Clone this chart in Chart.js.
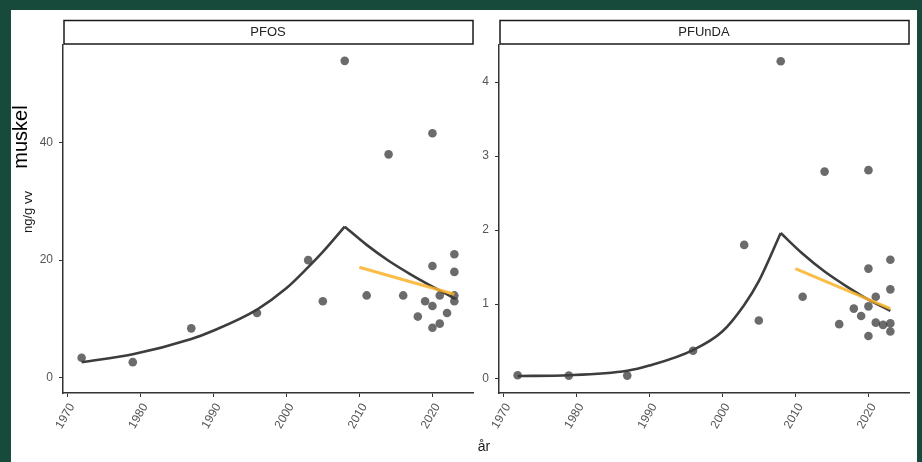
<!DOCTYPE html>
<html>
<head>
<meta charset="utf-8">
<script src="https://cdn.jsdelivr.net/npm/chart.js@4"></script>
<style>
  body { margin: 0; width: 922px; height: 462px; background: #174a3b; position: relative; overflow: hidden; font-family: "Liberation Sans", Arial, sans-serif; }
  #sheet { position: absolute; left: 11px; top: 10px; width: 906px; height: 452px; background: #fff; }
  canvas { position: absolute; top: 0; }
  .lab { position: absolute; white-space: nowrap; transform: translate(-50%, -50%); line-height: 1; }
</style>
</head>
<body>
<div id="sheet"></div>
<canvas id="pfos" width="480" height="462" style="left:0px"></canvas>
<canvas id="pfunda" width="442" height="462" style="left:480px"></canvas>
<div class="lab" id="muskel" style="left:20px; top:137px; font-size:20px; color:#000; transform:translate(-50%,-50%) rotate(-90deg);">muskel</div>
<div class="lab" id="ylab" style="left:27px; top:212px; font-size:13px; color:#1a1a1a; transform:translate(-50%,-50%) rotate(-90deg);">ng/g vv</div>
<div class="lab" id="xlab" style="left:484px; top:446px; font-size:14px; color:#1a1a1a;">år</div>
<script>
// sample years (same for both substances)
var years = [1972, 1979, 1987, 1996, 2003, 2005, 2008, 2011, 2014, 2016, 2018, 2019,
             2020, 2020, 2020, 2020, 2021, 2021, 2022, 2023, 2023, 2023, 2023];
var pfos = [3.4, 2.65, 8.4, 11.0, 20.0, 13.0, 53.9, 14.0, 38.0, 14.0, 10.4, 13.0,
            41.6, 19.0, 12.2, 8.5, 14.0, 9.2, 11.0, 21.0, 18.0, 14.0, 13.0];
var pfunda = [0.04, 0.035, 0.035, 0.37, 1.80, 0.78, 4.28, 1.10, 2.79, 0.73, 0.94, 0.84,
              2.81, 1.48, 0.97, 0.57, 1.10, 0.75, 0.72, 1.60, 1.20, 0.74, 0.63];

// fitted curve (dark line), rising part and falling part
var upYears = [1972, 1979, 1987, 1990, 1996, 2000, 2003, 2005, 2008];
var pfosUp = [2.65, 4.0, 6.6, 8.0, 11.6, 15.2, 18.8, 21.4, 25.7];
var pfundaUp = [0.03, 0.04, 0.10, 0.17, 0.38, 0.63, 0.99, 1.31, 1.96];
var downYears = [2008, 2011, 2014, 2017, 2020, 2023];
var pfosDown = [25.7, 22.6, 19.9, 17.6, 15.5, 13.5];
var pfundaDown = [1.96, 1.68, 1.44, 1.24, 1.06, 0.91];

// recent trend (orange line)
var trendYears = [2010, 2023];
var pfosTrend = [18.8, 14.2];
var pfundaTrend = [1.48, 0.94];

// tick labels
var xTicks = [1970, 1980, 1990, 2000, 2010, 2020];
var pfosTicks = [0, 20, 40];
var pfundaTicks = [0, 1, 2, 3, 4];

Chart.defaults.font.family = '"Liberation Sans", Arial, sans-serif';
Chart.defaults.font.size = 12;

function pairs(xs, ys) {
    return xs.map(function (x, i) { return { x: x, y: ys[i] }; });
}

// facet strip above the plot area
var stripPlugin = {
    id: 'strip',
    afterDraw: function (chart, args, opts) {
        var ctx = chart.ctx;
        var a = chart.chartArea;
        ctx.save();
        ctx.fillStyle = '#fff';
        ctx.fillRect(a.left + 1, 20, a.right - a.left - 1, 24);
        ctx.strokeStyle = '#1a1a1a';
        ctx.lineWidth = 1.5;
        ctx.strokeRect(a.left + 1, 20.5, a.right - a.left - 1, 23.5);
        ctx.fillStyle = '#222';
        ctx.font = '13px "Liberation Sans", Arial, sans-serif';
        ctx.textAlign = 'center';
        ctx.textBaseline = 'middle';
        ctx.fillText(opts.text, (a.left + a.right) / 2, 32.5);
        ctx.restore();
    }
};

function curve(xs, ys, order) {
    return {
        type: 'line',
        data: pairs(xs, ys),
        borderColor: '#3d3d3d',
        borderWidth: 2.6,
        pointRadius: 0,
        cubicInterpolationMode: 'monotone',
        fill: false,
        order: order
    };
}

function makePanel(id, name, vals, up, down, trend, yTicks, ymin, ymax, yWidth, padRight) {
    var ctx = document.getElementById(id);
    return new Chart(ctx, {
        type: 'scatter',
        data: {
            datasets: [{
                data: pairs(years, vals),
                backgroundColor: 'rgba(50,50,50,0.72)',
                borderWidth: 0,
                pointRadius: 4.3,
                order: 3
            },
            curve(upYears, up, 2),
            curve(downYears, down, 2),
            {
                type: 'line',
                data: pairs(trendYears, trend),
                borderColor: 'rgba(249,178,40,0.85)',
                borderWidth: 3,
                pointRadius: 0,
                fill: false,
                order: 1
            }]
        },
        options: {
            responsive: false,
            animation: false,
            layout: { padding: { left: 0, top: 45, right: padRight, bottom: 0 } },
            plugins: {
                legend: { display: false },
                tooltip: { enabled: false },
                strip: { text: name }
            },
            scales: {
                x: {
                    type: 'linear',
                    min: 1969.45,
                    max: 2025.55,
                    afterBuildTicks: function (scale) {
                        scale.ticks = xTicks.map(function (v) { return { value: v }; });
                    },
                    afterFit: function (scale) { scale.height = 69; },
                    ticks: {
                        color: '#555',
                        minRotation: 60,
                        maxRotation: 60,
                        padding: 4,
                        labelOffset: 5,
                        callback: function (v) { return String(v); }
                    },
                    grid: { drawOnChartArea: false, tickLength: 4, color: '#333', tickWidth: 1 },
                    border: { color: '#333', width: 1.5 }
                },
                y: {
                    min: ymin,
                    max: ymax,
                    afterBuildTicks: function (scale) {
                        scale.ticks = yTicks.map(function (v) { return { value: v }; });
                    },
                    afterFit: function (scale) { scale.width = yWidth; },
                    ticks: {
                        color: '#555',
                        padding: 6,
                        callback: function (v) { return String(v); }
                    },
                    grid: { drawOnChartArea: false, tickLength: 4, color: '#333', tickWidth: 1 },
                    border: { color: '#333', width: 1.5 }
                }
            }
        },
        plugins: [stripPlugin]
    });
}

makePanel('pfos', 'PFOS', pfos, pfosUp, pfosDown, pfosTrend, pfosTicks, -2.6, 56.6, 63, 7);
makePanel('pfunda', 'PFUnDA', pfunda, pfundaUp, pfundaDown, pfundaTrend, pfundaTicks, -0.2, 4.5, 19, 13);
</script>
</body>
</html>
